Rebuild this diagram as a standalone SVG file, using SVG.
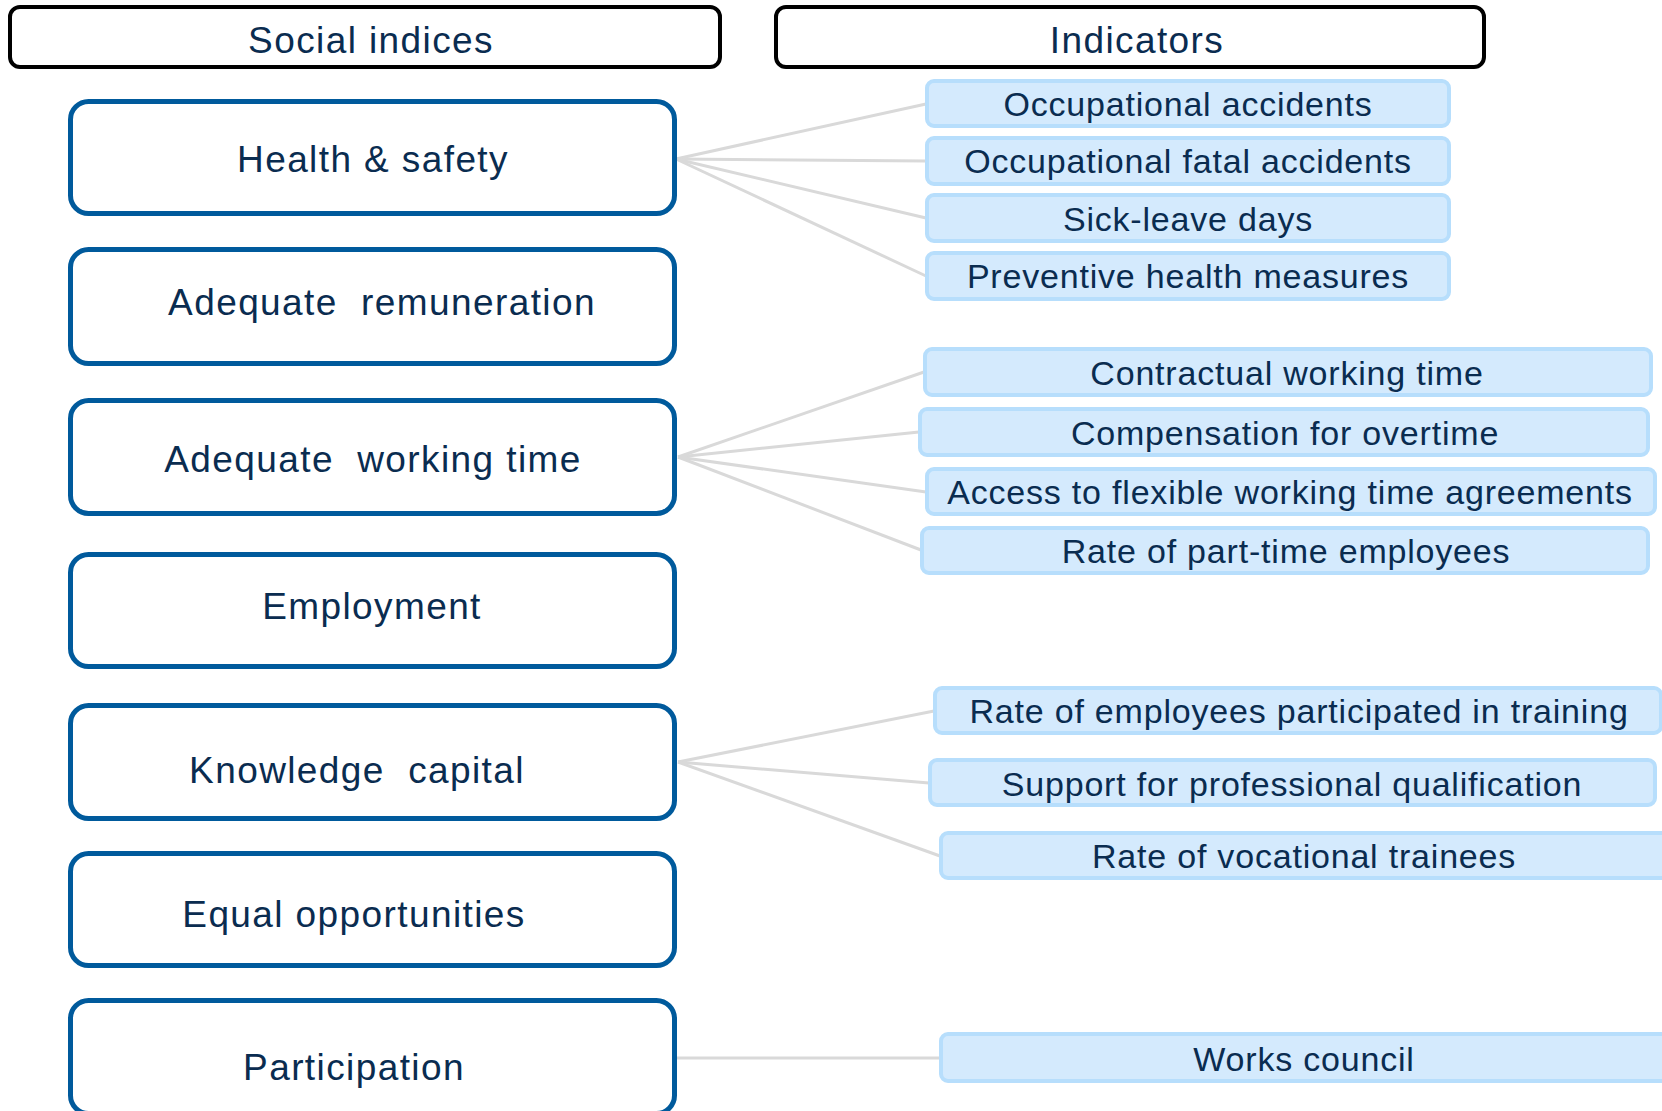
<svg xmlns="http://www.w3.org/2000/svg" width="1662" height="1111" viewBox="0 0 1662 1111">
<style>
  .hdr { fill: #ffffff; stroke: #000000; stroke-width: 4; }
  .idx { fill: #ffffff; stroke: #005a9c; stroke-width: 5; }
  .ind { fill: #d4eafd; stroke: #b7defc; stroke-width: 4; }
  .conn { stroke: #d9d9d9; stroke-width: 3; fill: none; }
  text { font-family: "Liberation Sans", Arial, sans-serif; fill: #0a2c50; text-anchor: middle; white-space: pre; }
  .big { font-size: 37px; letter-spacing: 1.4px; }
  .small { font-size: 34px; letter-spacing: 0.8px; }
</style>
<rect width="1662" height="1111" fill="#ffffff"/>

<g id="connectors">
  <line class="conn" x1="676" y1="159" x2="926" y2="104"/>
  <line class="conn" x1="676" y1="159" x2="926" y2="161"/>
  <line class="conn" x1="676" y1="159" x2="926" y2="218"/>
  <line class="conn" x1="676" y1="159" x2="926" y2="276"/>
  <line class="conn" x1="678" y1="457" x2="924" y2="372"/>
  <line class="conn" x1="678" y1="457" x2="919" y2="432"/>
  <line class="conn" x1="678" y1="457" x2="926" y2="492"/>
  <line class="conn" x1="678" y1="457" x2="921" y2="550"/>
  <line class="conn" x1="678" y1="762" x2="934" y2="711"/>
  <line class="conn" x1="678" y1="762" x2="929" y2="783"/>
  <line class="conn" x1="678" y1="762" x2="940" y2="856"/>
  <line class="conn" x1="676" y1="1058" x2="940" y2="1058"/>
</g>

<g id="header-social">
  <rect class="hdr" x="10" y="7" width="710" height="60" rx="10"/>
  <text class="big" x="371" y="53">Social indices</text>
</g>
<g id="header-indicators">
  <rect class="hdr" x="776" y="7" width="708" height="60" rx="10"/>
  <text class="big" x="1137" y="53">Indicators</text>
</g>

<g id="health-safety">
  <rect class="idx" x="70.5" y="101.5" width="604" height="112" rx="18"/>
  <text class="big" x="373" y="172">Health &amp; safety</text>
</g>
<g id="adequate-remuneration">
  <rect class="idx" x="70.5" y="249.5" width="604" height="114" rx="18"/>
  <text class="big" x="382" y="315">Adequate  remuneration</text>
</g>
<g id="adequate-working-time">
  <rect class="idx" x="70.5" y="400.5" width="604" height="113" rx="18"/>
  <text class="big" x="373" y="472">Adequate  working time</text>
</g>
<g id="employment">
  <rect class="idx" x="70.5" y="554.5" width="604" height="112" rx="18"/>
  <text class="big" x="372" y="619">Employment</text>
</g>
<g id="knowledge-capital">
  <rect class="idx" x="70.5" y="705.5" width="604" height="113" rx="18"/>
  <text class="big" x="357" y="783">Knowledge  capital</text>
</g>
<g id="equal-opportunities">
  <rect class="idx" x="70.5" y="853.5" width="604" height="112" rx="18"/>
  <text class="big" x="354" y="927">Equal opportunities</text>
</g>
<g id="participation">
  <rect class="idx" x="70.5" y="1000.5" width="604" height="113" rx="18"/>
  <text class="big" x="354" y="1080">Participation</text>
</g>

<g id="occupational-accidents">
  <rect class="ind" x="927" y="81" width="522" height="45" rx="7"/>
  <text class="small" x="1188" y="116">Occupational accidents</text>
</g>
<g id="occupational-fatal-accidents">
  <rect class="ind" x="927" y="138" width="522" height="46" rx="7"/>
  <text class="small" x="1188" y="173">Occupational fatal accidents</text>
</g>
<g id="sick-leave-days">
  <rect class="ind" x="927" y="195" width="522" height="46" rx="7"/>
  <text class="small" x="1188" y="231">Sick-leave days</text>
</g>
<g id="preventive-health-measures">
  <rect class="ind" x="927" y="253" width="522" height="46" rx="7"/>
  <text class="small" x="1188" y="288">Preventive health measures</text>
</g>

<g id="contractual-working-time">
  <rect class="ind" x="925" y="349" width="726" height="46" rx="7"/>
  <text class="small" x="1287" y="385">Contractual working time</text>
</g>
<g id="compensation-overtime">
  <rect class="ind" x="920" y="409" width="728" height="46" rx="7"/>
  <text class="small" x="1285" y="445">Compensation for overtime</text>
</g>
<g id="flexible-working-time">
  <rect class="ind" x="927" y="469" width="728" height="45" rx="7"/>
  <text class="small" x="1290" y="504">Access to flexible working time agreements</text>
</g>
<g id="part-time-employees">
  <rect class="ind" x="922" y="528" width="726" height="45" rx="7"/>
  <text class="small" x="1286" y="563">Rate of part-time employees</text>
</g>

<g id="employees-training">
  <rect class="ind" x="935" y="688" width="726" height="45" rx="7"/>
  <text class="small" x="1299" y="723">Rate of employees participated in training</text>
</g>
<g id="professional-qualification">
  <rect class="ind" x="930" y="760" width="725" height="45" rx="7"/>
  <text class="small" x="1292" y="796">Support for professional qualification</text>
</g>
<g id="vocational-trainees">
  <rect class="ind" x="941" y="833" width="740" height="45" rx="7"/>
  <text class="small" x="1304" y="868">Rate of vocational trainees</text>
</g>

<g id="works-council">
  <rect class="ind" x="941" y="1034" width="740" height="47" rx="7"/>
  <text class="small" x="1304" y="1071">Works council</text>
</g>
</svg>
